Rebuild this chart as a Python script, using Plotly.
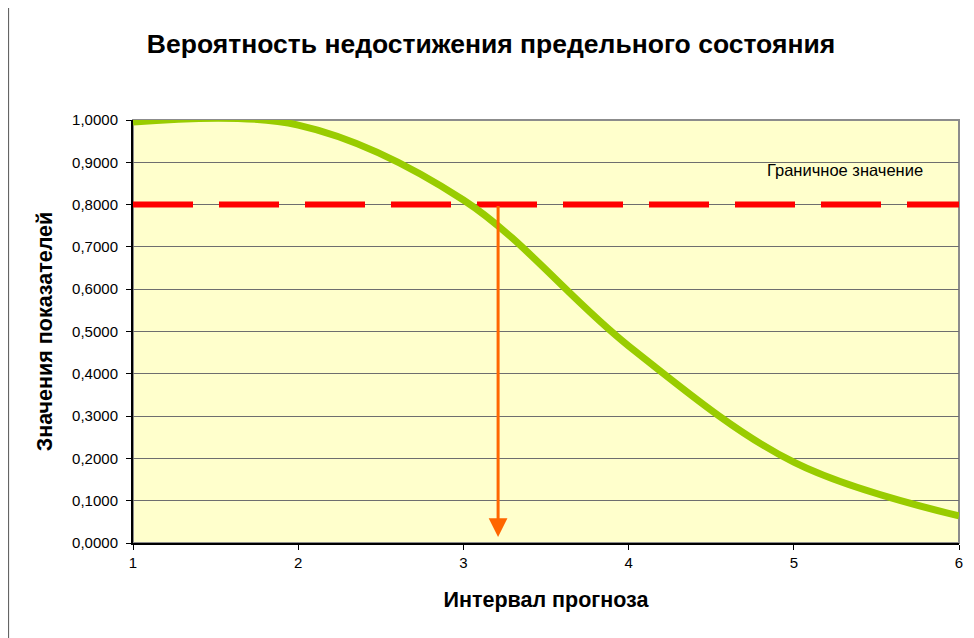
import plotly.graph_objects as go

# Data
intervals = [1, 2, 3, 4, 5, 6]
probability = [0.995, 0.988, 0.811, 0.466, 0.191, 0.064]
threshold_x = [1, 6]
threshold_y = [0.8, 0.8]
arrow_x = 3.21
arrow_top = 0.8
arrow_bottom = 0.014
y_ticks = [0.0, 0.1, 0.2, 0.3, 0.4, 0.5, 0.6, 0.7, 0.8, 0.9, 1.0]
x_ticks = [1, 2, 3, 4, 5, 6]

title_text = "Вероятность недостижения предельного состояния"
x_title = "Интервал прогноза"
y_title = "Значения показателей"
threshold_label = "Граничное значение"

FONT = "Arial, 'Liberation Sans', sans-serif"

fig = go.Figure()

fig.add_trace(go.Scatter(
    x=threshold_x, y=threshold_y, mode="lines",
    line=dict(color="#FF0000", width=6, dash="60px,26px"),
    hoverinfo="skip", showlegend=False,
))

fig.add_trace(go.Scatter(
    x=intervals, y=probability, mode="lines",
    line=dict(color="#99CC00", width=7, shape="spline", smoothing=1.0),
    showlegend=False,
))

fig.add_annotation(
    x=arrow_x, y=arrow_bottom, ax=arrow_x, ay=arrow_top,
    xref="x", yref="y", axref="x", ayref="y",
    text="", showarrow=True, arrowhead=2, arrowsize=1.25,
    arrowwidth=3, arrowcolor="#FF6600",
)

fig.add_annotation(
    x=5.31, y=0.8, xref="x", yref="y",
    text=threshold_label, showarrow=False,
    yshift=34.6, font=dict(family=FONT, size=16.5, color="#000000"),
)

# plot area border (grey) and outer chart border line
fig.add_shape(type="rect", xref="paper", yref="paper", x0=0, y0=0, x1=1, y1=1,
              line=dict(color="#8C8C8C", width=2), layer="below")
fig.add_shape(type="line", xref="paper", yref="paper", x0=-0.1506, x1=-0.1506,
              y0=-0.3, y1=1.4, line=dict(color="#555555", width=1))

# page body has an 8px margin; figure is sized so the plot area lands where the reference has it
fig.update_layout(
    width=966, height=630,
    margin=dict(l=125, r=11, t=112, b=95),
    paper_bgcolor="#FFFFFF",
    plot_bgcolor="#FFFFCC",
    separators=", ",
    font=dict(family=FONT, size=15, color="#000000"),
    title=dict(text="<b>" + title_text + "</b>", x=0.5, xanchor="center",
               y=0.943, yanchor="middle", font=dict(family=FONT, size=26.5)),
    showlegend=False,
)

fig.update_xaxes(
    range=[1, 6], tickvals=x_ticks, ticks="outside", ticklen=5, tickcolor="#000000",
    showgrid=False, zeroline=False, showline=True, linecolor="#000000", linewidth=2,
    tickfont=dict(family=FONT, size=15),
    title=dict(text="<b>" + x_title + "</b>", font=dict(family=FONT, size=21.5), standoff=22),
)
fig.update_yaxes(
    range=[0, 1], tickvals=y_ticks, tickformat=".4f", ticks="outside", ticklen=5,
    tickcolor="#000000", showgrid=True, gridcolor="#6E6E6E", gridwidth=1,
    zeroline=False, showline=True, linecolor="#000000", linewidth=2,
    tickfont=dict(family=FONT, size=15), ticklabelstandoff=5,
    title=dict(text="<b>" + y_title + "</b>", font=dict(family=FONT, size=21.5), standoff=14),
)

fig.write_html("out.html")
